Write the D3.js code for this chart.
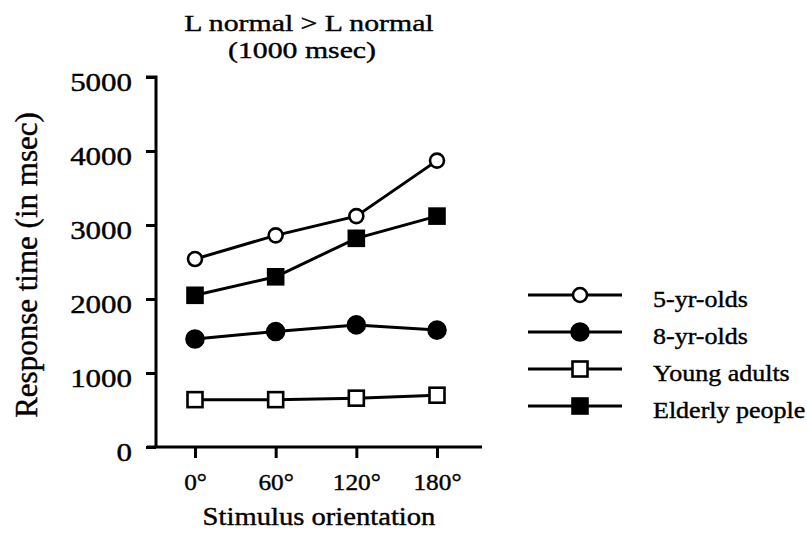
<!DOCTYPE html>
<html><head><meta charset="utf-8">
<script src="https://cdn.jsdelivr.net/npm/d3@7"></script>
<style>body{margin:0;background:#fff}svg{display:block}text{font-family:"Liberation Serif","Times New Roman",serif;fill:#000;stroke:#000;stroke-width:0.4px}</style>
</head><body><svg id="c" width="807" height="544"></svg>
<script>
const categories = ["0°","60°","120°","180°"];
const yTicks = [0,1000,2000,3000,4000,5000];
const fiveYr = [2540,2860,3120,3870];
const eightYr = [1460,1560,1650,1580];
const youngAdults = [640,640,660,700];
const elderly = [2050,2300,2820,3120];
const seriesNames = ["5-yr-olds","8-yr-olds","Young adults","Elderly people"];

const series = [
  {name:seriesNames[0], values:fiveYr, shape:"circle", fill:"#fff"},
  {name:seriesNames[1], values:eightYr, shape:"circle", fill:"#000"},
  {name:seriesNames[2], values:youngAdults, shape:"square", fill:"#fff"},
  {name:seriesNames[3], values:elderly, shape:"square", fill:"#000"}
];

const svg = d3.select("#c");
const x = d3.scalePoint().domain(categories).range([195,437]);
const y = d3.scaleLinear().domain([0,5000]).range([447,77]);

// widen glyphs to mimic the wider serif face of the original
function stretch(sel, f){
  sel.each(function(){
    const L = this.getComputedTextLength();
    d3.select(this).attr("textLength", L*f).attr("lengthAdjust","spacingAndGlyphs");
  });
}

// axes
const yAx = svg.append("g").attr("transform","translate(156,0)")
  .call(d3.axisLeft(y).tickValues(yTicks).tickSize(10).tickPadding(14).tickFormat(d3.format("d")));
yAx.select(".domain").attr("d","M-10,77H0V447");
yAx.selectAll(".tick text").attr("dy","0.5em").style("font-family",'"Liberation Serif",serif').style("font-size","26px").attr("x",-24);
const xAx = svg.append("g").attr("transform","translate(0,447)")
  .call(d3.axisBottom(x).tickSize(11).tickPadding(16));
xAx.select(".domain").attr("d","M147,0H482");
xAx.selectAll(".tick text").style("font-family",'"Liberation Serif",serif').style("font-size","23px");
svg.selectAll(".domain").attr("stroke","#000").attr("stroke-width",3);
svg.selectAll(".tick line").attr("stroke","#000").attr("stroke-width",3);
stretch(yAx.selectAll(".tick text"),1.19);
stretch(xAx.selectAll(".tick text"),1.1);

// titles
const t1 = svg.append("text").attr("x",309).attr("y",31).attr("text-anchor","middle").style("font-size","24px").text("L normal > L normal");
const t2 = svg.append("text").attr("x",302).attr("y",58).attr("text-anchor","middle").style("font-size","24px").text("(1000 msec)");
stretch(t1,1.24); stretch(t2,1.24);
svg.append("text").attr("transform","translate(37,265) rotate(-90)").attr("text-anchor","middle").style("font-size","31px").text("Response time (in msec)");
const xl = svg.append("text").attr("x",319).attr("y",525).attr("text-anchor","middle").style("font-size","26px").text("Stimulus orientation");
stretch(xl,1.1);

const line = d3.line().x((d,i)=>x(categories[i])).y(d=>y(d));
function marker(g, shape, fill){
  if(shape==="circle") g.append("circle").attr("r",fill==="#000"?8.5:7).attr("fill",fill).attr("stroke","#000").attr("stroke-width",2.6);
  else g.append("rect").attr("x",-7.5).attr("y",-7.5).attr("width",15).attr("height",15).attr("fill",fill).attr("stroke","#000").attr("stroke-width",2.6);
}
series.forEach(s=>{
  svg.append("path").datum(s.values).attr("d",line).attr("fill","none").attr("stroke","#000").attr("stroke-width",3);
  s.values.forEach((v,i)=>{
    const g = svg.append("g").attr("transform",`translate(${x(categories[i])},${y(v)})`);
    marker(g,s.shape,s.fill);
  });
});

// legend
series.forEach((s,i)=>{
  const ly = 295 + i*37;
  svg.append("line").attr("x1",528).attr("x2",622).attr("y1",ly).attr("y2",ly).attr("stroke","#000").attr("stroke-width",3);
  const g = svg.append("g").attr("transform",`translate(580,${ly})`);
  marker(g,s.shape,s.fill);
  const t = svg.append("text").attr("x",653).attr("y",ly+12).style("font-size","23px").text(s.name);
  stretch(t,1.13);
});
</script></body></html>
